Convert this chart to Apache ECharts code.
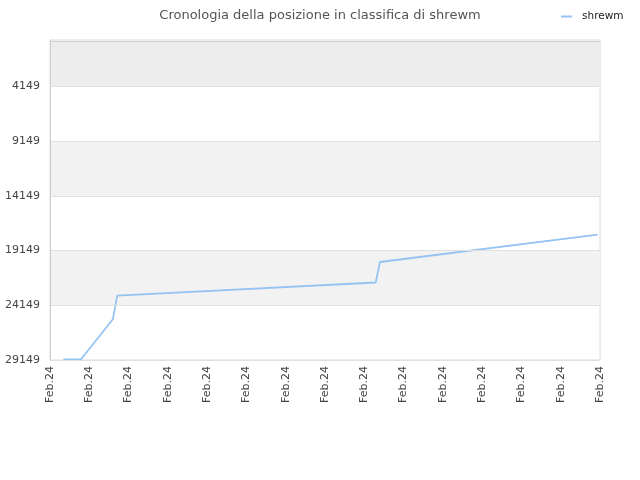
<!DOCTYPE html>
<html>
<head>
<meta charset="utf-8">
<script src="https://cdn.jsdelivr.net/npm/echarts@6/dist/echarts.min.js"></script>
<style>html,body{margin:0;padding:0;background:#fff}#c{width:640px;height:480px}</style>
</head>
<body>
<div id="c"></div>
<script>
const titleText = 'Cronologia della posizione in classifica di shrewm';
const seriesName = 'shrewm';
const xTickLabel = 'Feb.24';
const xPositions = [0.34, 0.79, 1.60, 1.71, 8.29, 8.40, 13.94];
const rankValues = [29085, 29085, 25429, 23271, 22065, 20191, 17695];
const yTicks = [4149, 9149, 14149, 19149, 24149, 29149];
const yMin = -100;
const bandRanges = [[-100, 4149], [9149, 14149], [19149, 24149]];

const chart = echarts.init(document.getElementById('c'));
const data = xPositions.map((x, i) => [x, rankValues[i]]);
chart.setOption({
  animation: false,
  backgroundColor: '#fff',
  title: {
    text: titleText, left: 'center', top: 4,
    textStyle: { fontFamily: 'DejaVu Sans', fontSize: 13, fontWeight: 'normal', color: '#555' }
  },
  legend: {
    data: [seriesName], left: 556, top: 6, itemWidth: 11, itemHeight: 2, itemGap: 5,
    icon: 'rect',
    textStyle: { fontFamily: 'DejaVu Sans', fontSize: 10.5, color: '#222', padding: [0, 0, 0, 5] }
  },
  grid: { left: 50, right: 40, top: 40, bottom: 120, show: true, borderColor: '#dcdcdc', borderWidth: 1, containLabel: false },
  xAxis: {
    type: 'value', min: 0, max: 14, interval: 1, z: 10,
    axisLine: { show: true, lineStyle: { color: '#d0d0d0' } },
    axisTick: { show: false },
    splitLine: { show: false },
    axisLabel: { rotate: 90, margin: 6, formatter: () => xTickLabel, fontFamily: 'DejaVu Sans', fontSize: 11, color: '#444' }
  },
  yAxis: {
    type: 'value', inverse: true, min: yMin, max: 29149, z: 10,
    axisLine: { show: true, lineStyle: { color: '#d0d0d0' } },
    axisTick: { show: false },
    splitLine: { show: false },
    axisLabel: { customValues: yTicks, formatter: v => String(v), margin: 10, fontFamily: 'DejaVu Sans', fontSize: 11, color: '#444' }
  },
  series: [{
    name: seriesName, type: 'line', data: data, symbol: 'none',
    lineStyle: { color: '#95c3f2', width: 1.8 },
    itemStyle: { color: '#95c3f2' },
    markArea: {
      silent: true,
      itemStyle: { color: '#f2f2f2' },
      data: bandRanges.map((r, i) => [{ yAxis: r[0], itemStyle: { color: i === 0 ? '#ededed' : '#f2f2f2' } }, { yAxis: r[1] }])
    },
    markLine: {
      silent: true, symbol: 'none', label: { show: false },
      lineStyle: { color: '#e0e0e0', type: 'solid', width: 1 },
      data: yTicks.map(v => ({ yAxis: v }))
    },
    z: 3
  }]
});
</script>
</body>
</html>
